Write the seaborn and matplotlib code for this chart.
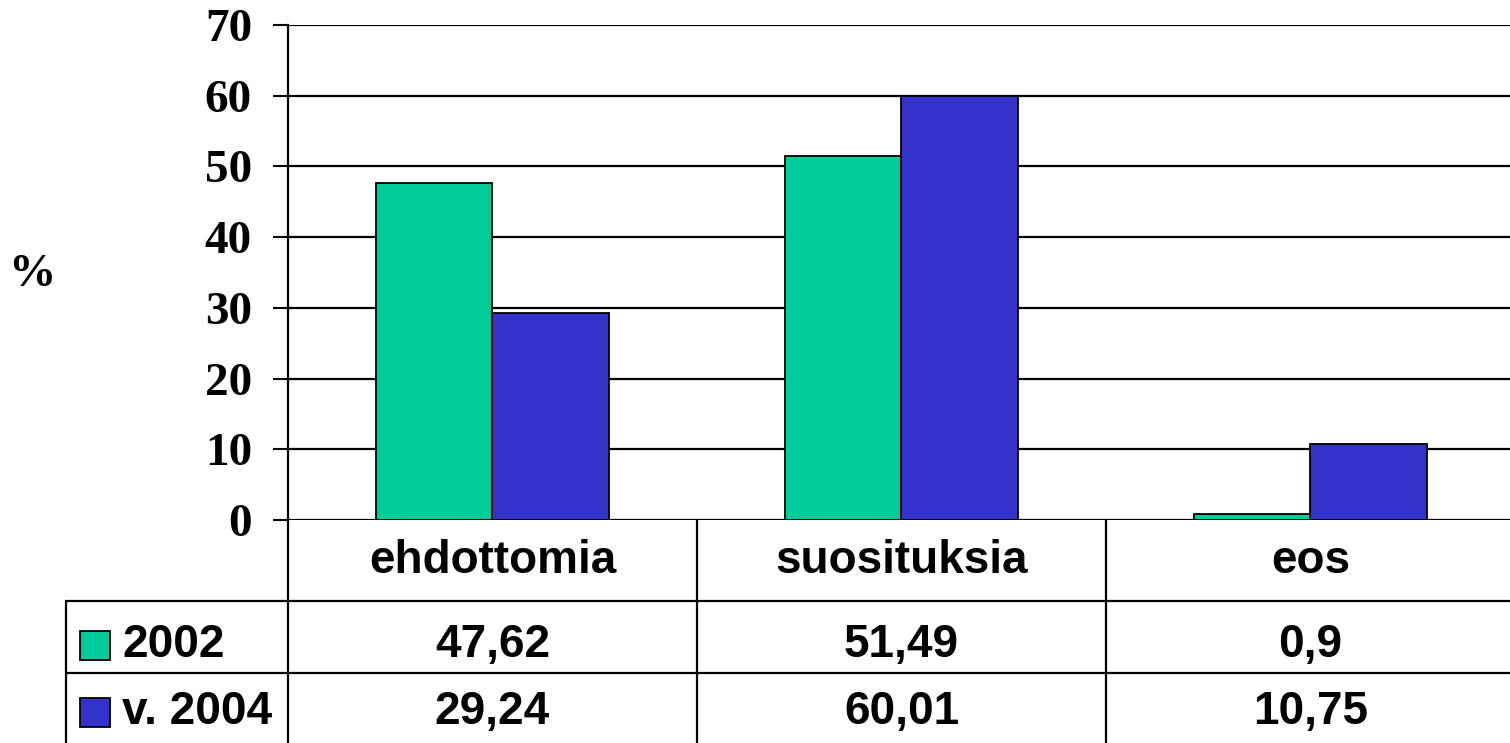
import pandas as pd
from matplotlib import pyplot as plt
from matplotlib.lines import Line2D
from matplotlib.patches import Rectangle
from matplotlib.transforms import blended_transform_factory
import seaborn as sns

# Chart data
categories = ["ehdottomia", "suosituksia", "eos"]
series = ["2002", "v. 2004"]
values_2002 = [47.62, 51.49, 0.9]
values_2004 = [29.24, 60.01, 10.75]
colors = ["#00CC99", "#3333CC"]
y_ticks = [0, 10, 20, 30, 40, 50, 60, 70]

df = pd.DataFrame({
    "kategoria": categories * 2,
    "vuosi": [series[0]] * len(categories) + [series[1]] * len(categories),
    "arvo": values_2002 + values_2004,
})

sns.set_style("white")
plt.rcParams["text.color"] = "black"
plt.rcParams["ytick.color"] = "black"
plt.rcParams["ytick.labelcolor"] = "black"
serif = "Liberation Serif"
sans = "Liberation Sans"

W, H = 1510, 743
fig = plt.figure(figsize=(W / 100, H / 100), dpi=100)

# axes box in pixels: left 288, right 1515, top 25, bottom 520
ax_h = 520 - 25
ax_w = 1515 - 288
ax = fig.add_axes([288 / W, 1 - 520 / H, ax_w / W, ax_h / H])

sns.barplot(data=df, x="kategoria", y="arvo", hue="vuosi", palette=colors,
            saturation=1, width=0.572, edgecolor="black", linewidth=1.3,
            legend=False, ax=ax, zorder=3)

ax.set_xlim(-0.5, len(categories) - 0.5)
ax.set_ylim(0, 70)
ax.set_yticks(y_ticks)
ax.set_yticklabels([str(t) for t in y_ticks], fontfamily=serif,
                   fontweight="bold", fontsize=34, color="black")
ax.tick_params(axis="y", direction="out", length=11, width=1.5,
               color="black", pad=15, left=True)
ax.set_xticks([])
ax.set_xlabel("")
ax.set_ylabel("")
ax.grid(axis="y", color="black", linewidth=1.6)
ax.set_axisbelow(True)
for s in ["top", "right", "bottom"]:
    ax.spines[s].set_visible(False)
ax.spines["left"].set_color("black")
ax.spines["left"].set_linewidth(1.6)

fig.text(32 / W, 1 - 275 / H, "%", fontfamily=serif, fontweight="bold",
         fontsize=34, ha="center", va="center", color="black")

# data table under the plot
def ay(py):
    return (520 - py) / ax_h

def axx(px):
    return (px - 288) / ax_w

blend = blended_transform_factory(ax.transData, ax.transAxes)
lw = 1.6
bounds = [i - 0.5 for i in range(len(categories) + 1)]
for b in bounds[:-1]:
    ax.add_line(Line2D([b, b], [0, ay(760)], transform=blend, color="black",
                       lw=lw, clip_on=False))
for py in [601, 673]:
    ax.add_line(Line2D([axx(66), 1.01], [ay(py), ay(py)], transform=ax.transAxes,
                       color="black", lw=lw, clip_on=False))
ax.add_line(Line2D([axx(66), axx(66)], [ay(601), ay(760)], transform=ax.transAxes,
                   color="black", lw=lw, clip_on=False))

txt = dict(fontfamily=sans, fontweight="bold", fontsize=33, va="center",
           color="black")
for i, cat in enumerate(categories):
    ax.text(i, ay(561), cat, transform=blend, ha="center", **txt)

def fmt(v):
    return f"{v:g}".replace(".", ",")

row_y = [ay(645), ay(712)]
for r, (name, vals) in enumerate(zip(series, [values_2002, values_2004])):
    for i, v in enumerate(vals):
        ax.text(i, row_y[r], fmt(v), transform=blend, ha="center", **txt)
    sw_h = 29 / ax_h
    ax.add_patch(Rectangle((axx(80), row_y[r] - sw_h / 2), 30 / ax_w, sw_h,
                           transform=ax.transAxes, facecolor=colors[r],
                           edgecolor="black", lw=1.3, clip_on=False))
    ax.text(axx(122), row_y[r], name, transform=ax.transAxes, ha="left", **txt)

fig.savefig("out.png", dpi=100)
